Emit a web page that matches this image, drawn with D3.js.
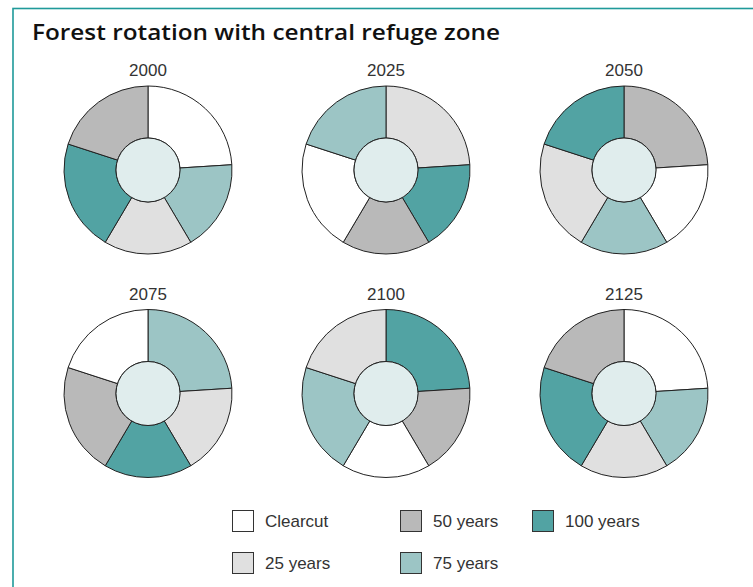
<!DOCTYPE html>
<html>
<head>
  <meta charset="utf-8">
  <title>Forest rotation with central refuge zone</title>
  <script src="https://d3js.org/d3.v7.min.js"></script>
  <style>
    body { margin: 0; background: #fff; }
    svg { display: block; font-family: "Liberation Sans", Arial, sans-serif; }
  </style>
</head>
<body>
<svg id="chart" width="753" height="587"></svg>
<script>
  // age classes and their fills
  var classes = ["Clearcut", "25 years", "50 years", "75 years", "100 years"];
  var classColors = ["#ffffff", "#e0e0e0", "#b9b9b9", "#9cc5c5", "#52a3a3"];

  // share of the forest held by each stand, clockwise from north
  var standShare = [24, 17.5, 17, 21.5, 20];

  var years = ["2000", "2025", "2050", "2075", "2100", "2125"];
  // age class of each stand (same order as standShare) in each year
  var standClass = [
    ["Clearcut", "75 years", "25 years", "100 years", "50 years"],
    ["25 years", "100 years", "50 years", "Clearcut", "75 years"],
    ["50 years", "Clearcut", "75 years", "25 years", "100 years"],
    ["75 years", "25 years", "100 years", "50 years", "Clearcut"],
    ["100 years", "50 years", "Clearcut", "75 years", "25 years"],
    ["Clearcut", "75 years", "25 years", "100 years", "50 years"]
  ];

  var svg = d3.select("#chart");

  var color = d3.scaleOrdinal().domain(classes).range(classColors);
  var colX = d3.scaleLinear().domain([0, 2]).range([148, 624]);
  var rowY = d3.scaleLinear().domain([0, 1]).range([170, 393.5]);

  // frame, open at the right and bottom
  svg.append("rect")
    .attr("x", 13).attr("y", 8.5)
    .attr("width", 800).attr("height", 700)
    .attr("fill", "none")
    .attr("stroke", "#1f9a9a")
    .attr("stroke-width", 1.6);

  svg.append("text")
    .attr("x", 32).attr("y", 40)
    .attr("font-family", "'Open Sans', sans-serif")
    .attr("font-size", 22)
    .attr("font-weight", 600)
    .attr("textLength", 468)
    .attr("lengthAdjust", "spacingAndGlyphs")
    .attr("fill", "#111")
    .text("Forest rotation with central refuge zone");

  var pie = d3.pie().sort(null).value(function(d) { return d; });
  var arc = d3.arc().innerRadius(32).outerRadius(84);
  var slices = pie(standShare);

  years.forEach(function(yr, i) {
    var g = svg.append("g")
      .attr("transform", "translate(" + colX(i % 3) + "," + rowY(Math.floor(i / 3)) + ")");

    g.append("text")
      .attr("y", -94)
      .attr("text-anchor", "middle")
      .attr("font-size", 17)
      .attr("fill", "#333")
      .text(yr);

    g.selectAll("path")
      .data(slices)
      .join("path")
      .attr("d", arc)
      .attr("fill", function(d, k) { return color(standClass[i][k]); })
      .attr("stroke", "#222")
      .attr("stroke-width", 1);

    // refuge zone
    g.append("circle")
      .attr("r", 32)
      .attr("fill", "#e0eded")
      .attr("stroke", "#222")
      .attr("stroke-width", 1);
  });

  // legend, filled column by column
  var legX = d3.scaleLinear().domain([0, 1, 2]).range([232, 400, 532]);
  var legY = d3.scaleLinear().domain([0, 1]).range([510, 552]);

  var leg = svg.selectAll("g.leg")
    .data(classes)
    .join("g")
    .attr("class", "leg")
    .attr("transform", function(d, k) {
      return "translate(" + legX(Math.floor(k / 2)) + "," + legY(k % 2) + ")";
    });

  leg.append("rect")
    .attr("x", 0.5).attr("y", 0.5)
    .attr("width", 21).attr("height", 21)
    .attr("fill", function(d) { return color(d); })
    .attr("stroke", "#333")
    .attr("stroke-width", 1);

  leg.append("text")
    .attr("x", 33).attr("y", 17)
    .attr("font-size", 17)
    .attr("fill", "#333")
    .text(function(d) { return d; });
</script>
</body>
</html>
